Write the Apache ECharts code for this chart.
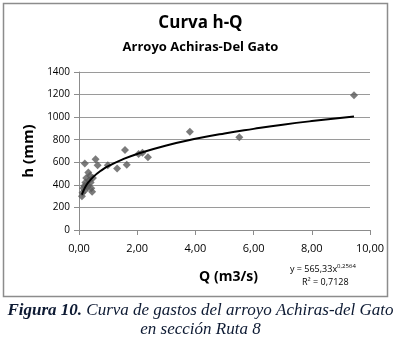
<!DOCTYPE html>
<html>
<head>
<meta charset="utf-8">
<script src="https://cdn.jsdelivr.net/npm/echarts@6/dist/echarts.min.js"></script>
<style>
  html, body { margin: 0; padding: 0; background: #fff; }
  #main { width: 401px; height: 340px; }
</style>
</head>
<body>
<div id="main"></div>
<script>
var caudal = [0.10, 0.12, 0.15, 0.18, 0.20, 0.22, 0.25, 0.28, 0.30, 0.32, 0.35, 0.38, 0.40, 0.42, 0.45, 0.48,
    0.20, 0.57, 0.64, 0.99, 1.31, 1.58, 1.64, 2.05, 2.18, 2.37, 3.81, 5.51, 9.45];
var altura = [300, 330, 370, 390, 350, 420, 460, 400, 380, 510, 440, 480, 420, 370, 340, 460,
    590, 628, 573, 573, 546, 708, 578, 673, 685, 644, 871, 821, 1193];

// linea de tendencia (potencial)
var trendQ = [0.10, 0.20, 0.30, 0.50, 0.75, 1.00, 1.50, 2.00, 3.00, 4.00, 5.00, 6.00, 7.00, 8.00, 9.45];
var trendH = [313, 373, 416, 473, 525, 565, 626, 674, 749, 808, 856, 896, 933, 965, 1006];

var xTicks = ['0,00', '2,00', '4,00', '6,00', '8,00', '10,00'];

var puntos = caudal.map(function (q, i) { return [q, altura[i]]; });
var tendencia = trendQ.map(function (q, i) { return [q, trendH[i]]; });

var myChart = echarts.init(document.getElementById('main'));
var option = {
    animation: false,
    textStyle: { fontFamily: 'Open Sans' },
    title: [
        {
            text: 'Curva h-Q',
            left: 'center',
            top: 10,
            textStyle: { fontSize: 17, fontWeight: 'bold', color: '#000', fontFamily: 'Open Sans' }
        },
        {
            text: 'Arroyo Achiras-Del Gato',
            left: 'center',
            top: 36,
            textStyle: { fontSize: 13, fontWeight: 'bold', color: '#000', fontFamily: 'Open Sans' }
        }
    ],
    grid: { left: 79, right: 31, top: 72, bottom: 110 },
    xAxis: {
        type: 'value',
        min: 0,
        max: 10,
        interval: 2,
        name: 'Q (m3/s)',
        nameLocation: 'middle',
        nameGap: 40,
        nameTextStyle: { fontSize: 14, fontWeight: 'bold', color: '#000', padding: [0, 0, 0, 8] },
        axisLine: { lineStyle: { color: '#8c8c8c' } },
        axisTick: { show: true, length: 5, lineStyle: { color: '#8c8c8c' } },
        axisLabel: {
            color: '#000', fontSize: 11, margin: 13,
            formatter: function (v) { return xTicks[Math.round(v / 2)]; }
        },
        splitLine: { show: false }
    },
    yAxis: {
        type: 'value',
        min: 0,
        max: 1400,
        interval: 200,
        name: 'h (mm)',
        nameLocation: 'middle',
        nameGap: 43,
        nameTextStyle: { fontSize: 15, fontWeight: 'bold', color: '#000' },
        axisLine: { show: true, lineStyle: { color: '#8c8c8c' } },
        axisTick: { show: true, length: 5, lineStyle: { color: '#8c8c8c' } },
        axisLabel: { color: '#000', fontSize: 10, margin: 9, formatter: function (v) { return String(v); } },
        splitLine: { lineStyle: { color: '#9a9a9a' } }
    },
    series: [
        {
            type: 'scatter',
            data: puntos,
            symbol: 'path://M0,-1L1,0L0,1L-1,0Z',
            symbolSize: 8,
            itemStyle: { color: '#5a5a5a' },
            z: 3
        },
        {
            type: 'line',
            data: tendencia,
            smooth: true,
            showSymbol: false,
            lineStyle: { color: '#000', width: 2 },
            z: 4
        }
    ],
    graphic: [
        {
            type: 'rect',
            shape: { x: 3.5, y: 3.5, width: 384, height: 293 },
            style: { fill: 'none', stroke: '#8c8c8c', lineWidth: 1.5 }
        },
        {
            type: 'text',
            left: 290,
            top: 263,
            style: {
                text: '{a|y = 565,33x}{s|0,2564}',
                rich: {
                    a: { fontSize: 9, fill: '#000', fontFamily: 'Open Sans' },
                    s: { fontSize: 6, fill: '#000', fontFamily: 'Open Sans', verticalAlign: 'top', padding: [0, 0, 6, 0] }
                }
            }
        },
        {
            type: 'text',
            left: 302,
            top: 278,
            style: { text: 'R² = 0,7128', fontSize: 9, fill: '#000', fontFamily: 'Open Sans' }
        },
        {
            type: 'text',
            left: 'center',
            top: 302,
            style: {
                text: '{b|Figura 10.}{i| Curva de gastos del arroyo Achiras-del Gato}\n{i|en sección Ruta 8}',
                align: 'center',
                rich: {
                    b: { fontSize: 17, fontWeight: 'bold', fontStyle: 'italic', fontFamily: 'Liberation Serif', fill: '#0d1a33', lineHeight: 19, align: 'center' },
                    i: { fontSize: 17, fontStyle: 'italic', fontFamily: 'Liberation Serif', fill: '#0d1a33', lineHeight: 19, align: 'center' }
                }
            }
        }
    ]
};
myChart.setOption(option);
</script>
</body>
</html>
